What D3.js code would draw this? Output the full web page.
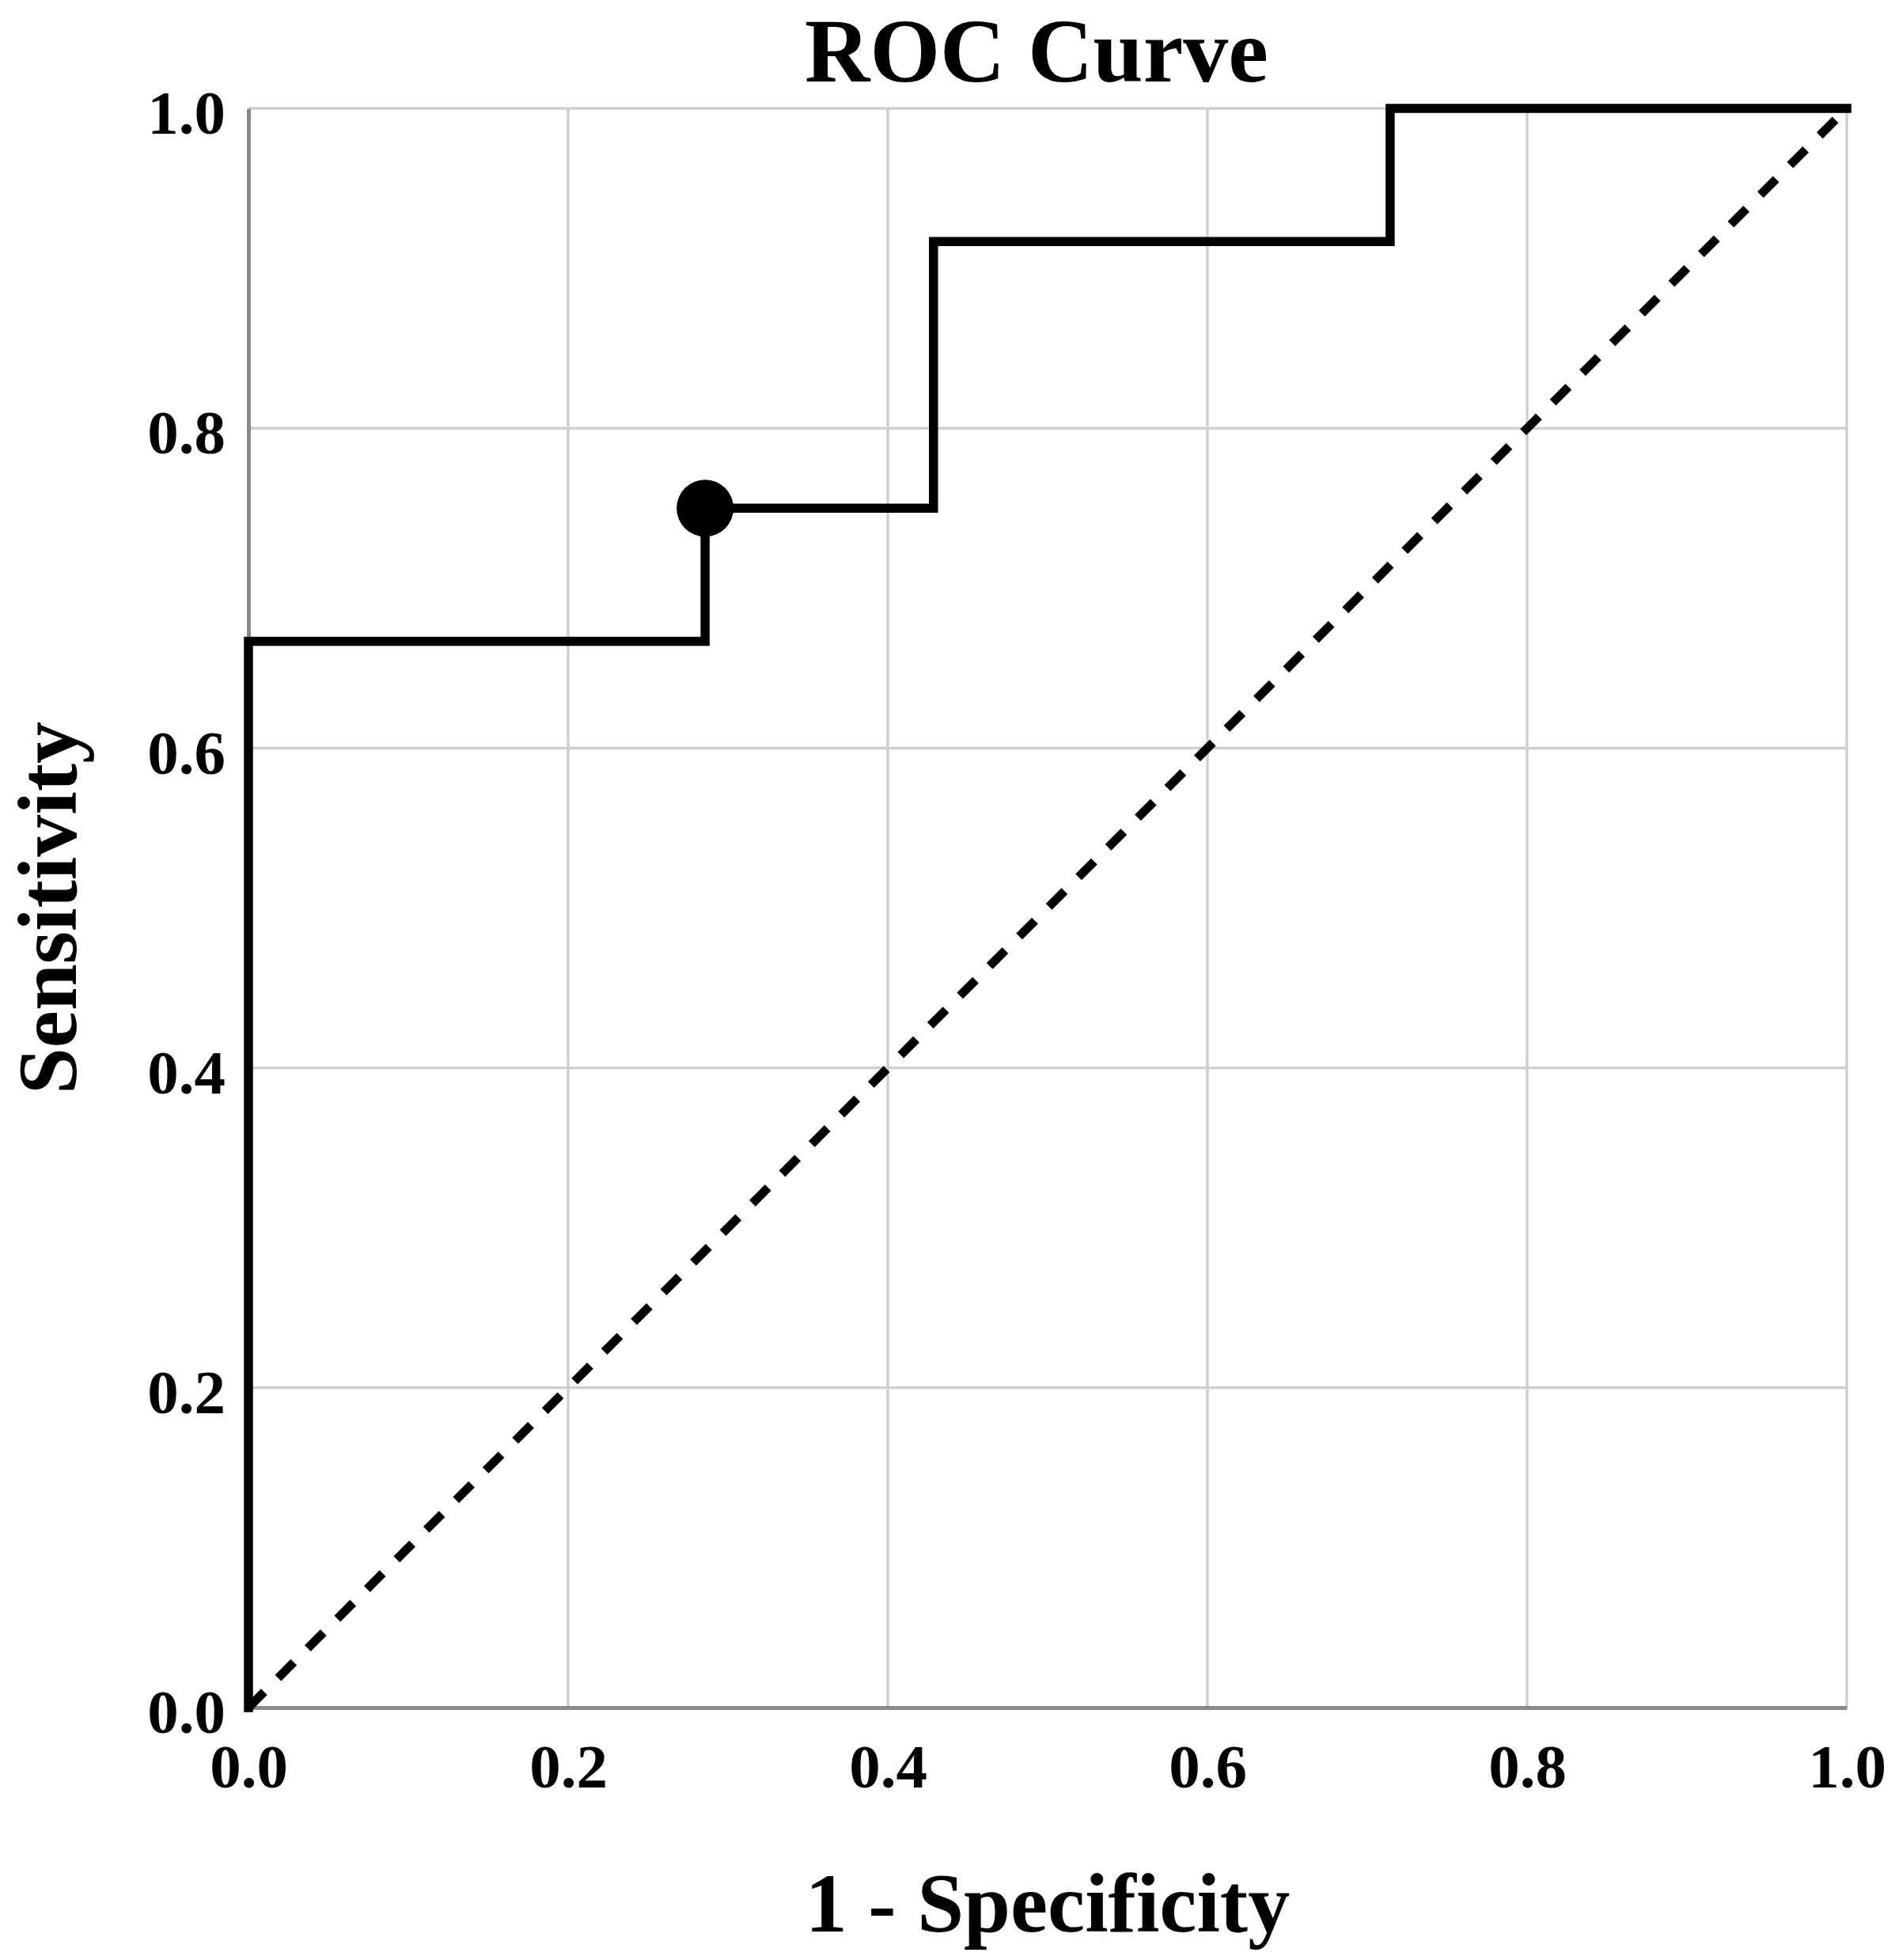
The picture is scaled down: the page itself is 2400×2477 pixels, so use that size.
<!DOCTYPE html>
<html>
<head>
<meta charset="utf-8">
<script src="https://cdn.jsdelivr.net/npm/d3@7"></script>
<style>
  html, body { margin: 0; padding: 0; background: #fff; }
  svg { display: block; }
  text { font-family: "Liberation Serif", "Times New Roman", serif; font-weight: bold; fill: #000; }
</style>
</head>
<body>
<svg id="chart" width="2400" height="2477"></svg>
<script>
// ---- Data ----
const rocFPR = [0, 0, 0.2857, 0.2857, 0.4286, 0.4286, 0.7143, 0.7143, 1.0];
const rocTPR = [0, 0.6667, 0.6667, 0.75, 0.75, 0.9167, 0.9167, 1.0, 1.0];
const cutoffPoint = [0.2857, 0.75];
const refLine = [[0, 0], [1, 1]];
const xTicks = [0, 0.2, 0.4, 0.6, 0.8, 1.0];
const yTicks = [0, 0.2, 0.4, 0.6, 0.8, 1.0];
const titleText = "ROC Curve";
const xLabel = "1 - Specificity";
const yLabel = "Sensitivity";

// ---- Layout ----
const W = 2400, H = 2477;
const plot = { left: 314, right: 2334, top: 137, bottom: 2158 };

const svg = d3.select("#chart");
const x = d3.scaleLinear().domain([0, 1]).range([plot.left, plot.right]);
const y = d3.scaleLinear().domain([0, 1]).range([plot.bottom, plot.top]);

// Grid lines
const grid = svg.append("g");
grid.selectAll("line.vx").data(xTicks.filter(d => d > 0)).join("line")
  .attr("x1", d => x(d)).attr("x2", d => x(d))
  .attr("y1", plot.top).attr("y2", plot.bottom)
  .attr("stroke", "#cfcfcf").attr("stroke-width", 3.5);
grid.selectAll("line.hy").data(yTicks.filter(d => d > 0)).join("line")
  .attr("x1", plot.left).attr("x2", plot.right)
  .attr("y1", d => y(d)).attr("y2", d => y(d))
  .attr("stroke", "#cfcfcf").attr("stroke-width", 3.5);

// Axes (left & bottom) using d3 axes, tick marks hidden
const xAxis = d3.axisBottom(x).tickValues(xTicks).tickFormat(d3.format(".1f")).tickSize(0).tickPadding(45);
const yAxis = d3.axisLeft(y).tickValues(yTicks).tickFormat(d3.format(".1f")).tickSize(0).tickPadding(29);

const gx = svg.append("g").attr("transform", `translate(0,${plot.bottom})`).call(xAxis);
gx.select(".domain").attr("stroke", "#8a8a8a").attr("stroke-width", 5);
gx.selectAll("text").style("font-size", "79px").style("font-family", "Liberation Serif").style("font-weight", "bold").attr("fill", "#000");

const gy = svg.append("g").attr("transform", `translate(${plot.left},0)`).call(yAxis);
gy.select(".domain").attr("stroke", "#8a8a8a").attr("stroke-width", 5);
gy.selectAll("text").style("font-size", "79px").style("font-family", "Liberation Serif").style("font-weight", "bold").attr("fill", "#000").attr("dy", "0.40em");

// Reference diagonal
svg.append("path")
  .datum(refLine)
  .attr("d", d3.line().x(d => x(d[0])).y(d => y(d[1])))
  .attr("fill", "none").attr("stroke", "#000").attr("stroke-width", 11)
  .attr("stroke-dasharray", "28 25");

// ROC curve
const pts = rocFPR.map((f, i) => [f, rocTPR[i]]);
svg.append("path")
  .datum(pts)
  .attr("d", d3.line().x(d => x(d[0])).y(d => y(d[1])))
  .attr("fill", "none").attr("stroke", "#000").attr("stroke-width", 11.5)
  .attr("stroke-linejoin", "miter").attr("stroke-linecap", "square");

// Cutoff marker
svg.append("circle")
  .attr("cx", x(cutoffPoint[0])).attr("cy", y(cutoffPoint[1]))
  .attr("r", 36).attr("fill", "#000");

// Title
svg.append("text")
  .attr("x", 1310).attr("y", 103)
  .attr("text-anchor", "middle")
  .style("font-size", "114px")
  .text(titleText);

// X label
svg.append("text")
  .attr("x", 1324).attr("y", 2441)
  .attr("text-anchor", "middle")
  .style("font-size", "106px")
  .text(xLabel);

// Y label
svg.append("text")
  .attr("transform", `translate(96,${(plot.top + plot.bottom) / 2}) rotate(-90)`)
  .attr("text-anchor", "middle")
  .style("font-size", "106px")
  .text(yLabel);
</script>
</body>
</html>
